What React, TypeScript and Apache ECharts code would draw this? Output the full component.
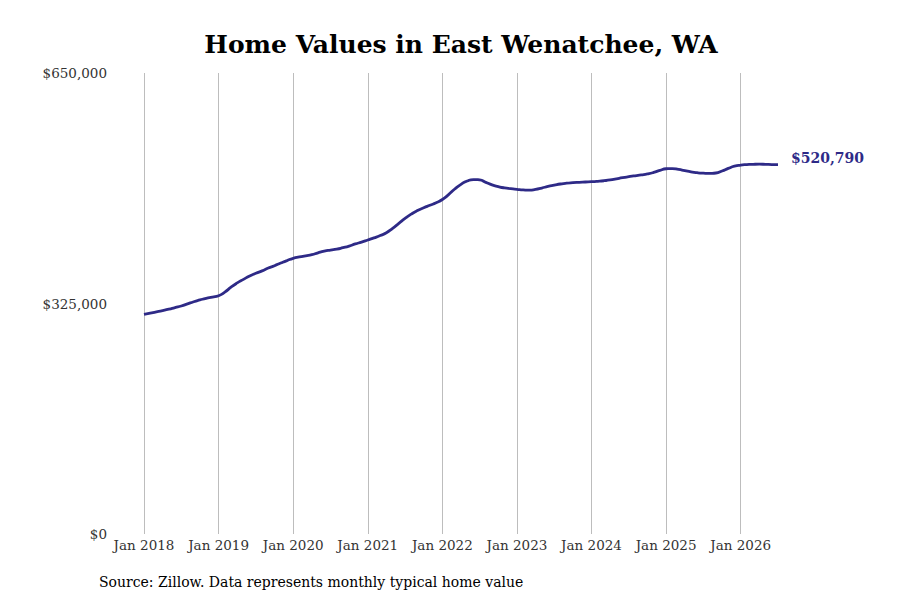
import React, { useEffect, useRef } from "react";
import * as echarts from "echarts";

const YEARS = [2018, 2019, 2020, 2021, 2022, 2023, 2024, 2025, 2026];
const MONTHS = ["Jan", "Feb", "Mar", "Apr", "May", "Jun", "Jul", "Aug", "Sep", "Oct", "Nov", "Dec"];

const values2018 = [309800, 311500, 313200, 315000, 317000, 319300, 321500, 324500, 327500, 330000, 332300, 334000];
const values2019 = [336000, 341000, 348000, 354000, 359000, 363800, 367600, 371000, 375000, 378300, 382000, 385500];
const values2020 = [388700, 390600, 392200, 393800, 396500, 398800, 400400, 401700, 403700, 406000, 409000, 411600];
const values2021 = [414500, 417500, 420800, 424800, 431000, 438000, 445000, 451000, 456000, 460000, 463500, 467000];
const values2022 = [471600, 478500, 486500, 493000, 497800, 499800, 499200, 495800, 492200, 489800, 488000, 486900];
const values2023 = [486000, 485200, 484800, 485800, 487800, 490000, 491800, 493500, 494700, 495400, 495900, 496300];
const values2024 = [496700, 497300, 498100, 499200, 500800, 502400, 503800, 505100, 506300, 507700, 509800, 512700];
const values2025 = [515000, 515300, 514000, 512300, 510600, 509400, 508700, 508400, 509000, 511800, 515500, 518600];
const values2026 = [520200, 520900, 521300, 521400, 521200, 520900, 520790];

const yTicks = [0, 325000, 650000];

const TITLE = "Home Values in East Wenatchee, WA";
const SOURCE = "Source: Zillow. Data represents monthly typical home value";
const LINE_COLOR = "#2e2a87";
const FONT = "'DejaVu Serif', serif";

const seriesValues = [
  ...values2018, ...values2019, ...values2020, ...values2021, ...values2022,
  ...values2023, ...values2024, ...values2025, ...values2026,
];

const categories: string[] = [];
YEARS.forEach((y) => MONTHS.forEach((m) => categories.push(`${m} ${y}`)));
categories.length = seriesValues.length;

const fmt = (v: number) => "$" + v.toLocaleString("en-US");

export default function App() {
  const ref = useRef<HTMLDivElement>(null);
  useEffect(() => {
    if (!ref.current) return;
    const chart = echarts.init(ref.current, undefined, { renderer: "svg" });
    chart.setOption({
      animation: false,
      backgroundColor: "#ffffff",
      title: {
        text: TITLE,
        left: 456,
        top: 27,
        textAlign: "center",
        textStyle: { fontFamily: FONT, fontWeight: "bold", fontSize: 25, color: "#000" },
      },
      graphic: [
        {
          type: "text",
          left: 99,
          top: 575,
          style: { text: SOURCE, fontFamily: FONT, fontSize: 14, fill: "#000" },
        },
      ],
      grid: { left: 144, right: 122, top: 73, bottom: 66, containLabel: false },
      xAxis: {
        type: "category",
        data: categories,
        boundaryGap: false,
        axisLine: { show: false },
        axisTick: { show: false },
        axisLabel: {
          interval: (i: number) => i % 12 === 0,
          fontFamily: FONT,
          fontSize: 13.5,
          color: "#333",
          margin: 4,
        },
        splitLine: {
          show: true,
          interval: (i: number) => i % 12 === 0,
          lineStyle: { color: "#bdbdbd", width: 1 },
        },
      },
      yAxis: {
        type: "value",
        min: 0,
        max: 650000,
        interval: 325000,
        axisLine: { show: false },
        axisTick: { show: false },
        splitLine: { show: false },
        axisLabel: {
          formatter: (v: number) => (yTicks.includes(v) ? fmt(v) : ""),
          fontFamily: FONT,
          fontSize: 13.5,
          color: "#333",
          margin: 37,
        },
      },
      series: [
        {
          type: "line",
          data: seriesValues,
          smooth: 0.6,
          showSymbol: false,
          lineStyle: { color: LINE_COLOR, width: 2.8 },
          endLabel: {
            show: true,
            formatter: (p: any) => fmt(p.value),
            color: LINE_COLOR,
            fontFamily: FONT,
            fontWeight: "bold",
            fontSize: 14,
            offset: [5, -7],
          },
        },
      ],
    });
    return () => chart.dispose();
  }, []);
  return <div ref={ref} style={{ width: 900, height: 600, margin: -8 }} />;
}
